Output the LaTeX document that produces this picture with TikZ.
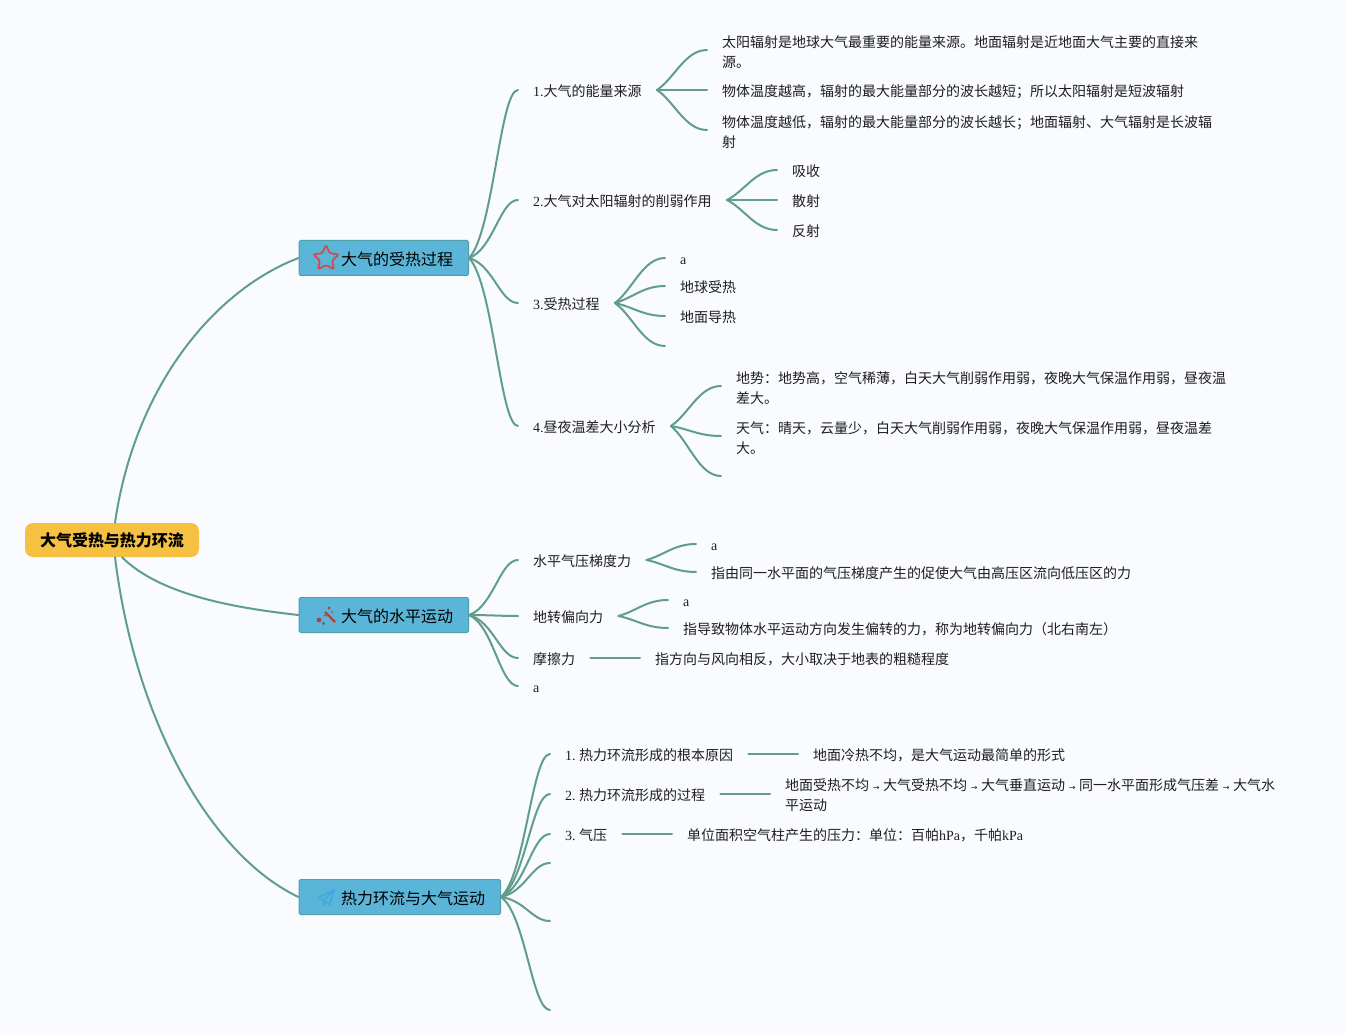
\documentclass[tikz,border=0pt]{standalone}
\usepackage{fontspec}
\usetikzlibrary{shapes.geometric,calc}
\setmainfont{Noto Sans CJK SC}
\newfontfamily\latfont{Liberation Serif}
\newfontfamily\arrowfont{DejaVu Sans}
\newcommand{\la}[1]{{\latfont #1}}
\newcommand{\arr}{\makebox[14pt]{\arrowfont\fontsize{8}{8}\selectfont →}}
\newcommand{\lnstrut}{\rule[-4pt]{0pt}{20pt}}
\definecolor{bgc}{HTML}{F9FBFF}
\definecolor{linkc}{HTML}{5F9E8F}
\definecolor{branchc}{HTML}{5BB5D8}
\definecolor{branchb}{HTML}{4E9FA8}
\definecolor{rootc}{HTML}{F6C143}
\definecolor{txtc}{HTML}{1E1E1E}
\definecolor{iconred}{HTML}{C9504B}
\definecolor{iconblue}{HTML}{3FA9E0}
\tikzset{
 txt/.style={anchor=west,inner sep=0pt,align=left,text=txtc,font=\fontsize{14}{20}\selectfont,execute at begin node=\lnstrut},
 btxt/.style={txt,text=black,font=\fontsize{16}{20}\selectfont},
 branch/.style={anchor=west,minimum height=35pt,inner sep=0pt,fill=branchc,draw=branchb,line width=1pt,rounded corners=1.5pt},
 rootnode/.style={fill=rootc,rounded corners=8pt,minimum width=174pt,minimum height=34pt,inner sep=0pt,text=black,font=\fontsize{16}{20}\selectfont\bfseries},
 lnk/.style={draw=linkc,line width=2pt,line cap=round},
 sc/.style={to path={.. controls ($(\tikztostart)!.3!(\tikztotarget)+(3,0)$) and +(-22,0) .. (\tikztotarget)}},
 big/.style={to path={.. controls ($(\tikztostart)!.15!(\tikztotarget)+(17,0)$) and +(-18,0) .. (\tikztotarget)}}
}
\begin{document}
\begin{tikzpicture}[x=1pt,y=-1pt]
\useasboundingbox (0,0) rectangle (1345,1035);
\fill[bgc] (0,0) rectangle (1345,1035);
% root and branches
\node[rootnode] (root) at (112,540) {\raisebox{-1.5pt}{大气受热与热力环流}};
\node[branch,minimum width=169.5pt] (b1) at (298.5,258) {};
\node[branch,minimum width=169.5pt] (b2) at (298.5,615) {};
\node[branch,minimum width=201.5pt] (b3) at (298.5,897) {};
\node[btxt] (b1t) at (341,260) {大气的受热过程};
\node[btxt] (b2t) at (341,616) {大气的水平运动};
\node[btxt] (b3t) at (341,898) {热力环流与大气运动};
% level 2, branch 1
\node[txt] (n1) at (533,91) {\la{1.}大气的能量来源};
\node[txt] (n11) at (722,53.5) {太阳辐射是地球大气最重要的能量来源。地面辐射是近地面大气主要的直接来\\\lnstrut 源。};
\node[txt] (n12) at (722,91) {物体温度越高，辐射的最大能量部分的波长越短；所以太阳辐射是短波辐射};
\node[txt] (n13) at (722,133.5) {物体温度越低，辐射的最大能量部分的波长越长；地面辐射、大气辐射是长波辐\\\lnstrut 射};
\node[txt] (n2) at (533,201) {\la{2.}大气对太阳辐射的削弱作用};
\node[txt] (n21) at (792,171) {吸收};
\node[txt] (n22) at (792,201) {散射};
\node[txt] (n23) at (792,231) {反射};
\node[txt] (n3) at (533,303) {\la{3.}受热过程};
\node[txt] (n31) at (680,259) {\la{a}};
\node[txt] (n32) at (680,287) {地球受热};
\node[txt] (n33) at (680,317) {地面导热};
\coordinate (n34) at (665,346);
\node[txt] (n4) at (533,426) {\la{4.}昼夜温差大小分析};
\node[txt] (n41) at (736,389.5) {地势：地势高，空气稀薄，白天大气削弱作用弱，夜晚大气保温作用弱，昼夜温\\\lnstrut 差大。};
\node[txt] (n42) at (736,439.5) {天气：晴天，云量少，白天大气削弱作用弱，夜晚大气保温作用弱，昼夜温差\\\lnstrut 大。};
\coordinate (n43) at (721,476);
% branch 2
\node[txt] (m1) at (533,560) {水平气压梯度力};
\node[txt] (m11) at (711,544) {\la{a}};
\node[txt] (m12) at (711,572) {指由同一水平面的气压梯度产生的促使大气由高压区流向低压区的力};
\node[txt] (m2) at (533,616) {地转偏向力};
\node[txt] (m21) at (683,600) {\la{a}};
\node[txt] (m22) at (683,628) {指导致物体水平运动方向发生偏转的力，称为地转偏向力（北右南左）};
\node[txt] (m3) at (533,658) {摩擦力};
\node[txt] (m31) at (655,658) {指方向与风向相反，大小取决于地表的粗糙程度};
\node[txt] (m4) at (533,686) {\la{a}};
% branch 3
\node[txt] (k1) at (565,754) {\la{1.}\hspace{3.5pt}热力环流形成的根本原因};
\node[txt] (k11) at (813,754) {地面冷热不均，是大气运动最简单的形式};
\node[txt] (k2) at (565,794) {\la{2.}\hspace{3.5pt}热力环流形成的过程};
\node[txt] (k21) at (785,797) {地面受热不均\arr 大气受热不均\arr 大气垂直运动\arr 同一水平面形成气压差\arr 大气水\\\lnstrut 平运动};
\node[txt] (k3) at (565,834) {\la{3.}\hspace{3.5pt}气压};
\node[txt] (k31) at (687,834) {单位面积空气柱产生的压力：单位：百帕\la{hPa}，千帕\la{kPa}};
\coordinate (k4) at (550,863);
\coordinate (k5) at (550,921);
\coordinate (k6) at (550,1010);
% connectors
\draw[lnk] ([xshift=3pt]root.north) .. controls (135,385) and (215,290) .. (b1.west);
\draw[lnk] ([xshift=10pt]root.south) .. controls (160,595) and (235,608) .. (b2.west);
\draw[lnk] ([xshift=3pt]root.south) .. controls (135,720) and (210,855) .. (b3.west);
\foreach \t in {n1,n2} \draw[lnk] (b1.east) to[big] ([xshift=-15pt,yshift=1pt]\t.west);
\foreach \t in {n3,n4} \draw[lnk] (b1.east) to[big] ([xshift=-15pt]\t.west);
\foreach \t in {m1,m2,m3,m4} \draw[lnk] (b2.east) to[big] ([xshift=-15pt]\t.west);
\foreach \t in {k1,k2,k3} \draw[lnk] (b3.east) to[big] ([xshift=-15pt]\t.west);
\foreach \t in {k4,k5,k6} \draw[lnk] (b3.east) to[big] (\t);
\draw[lnk] ([xshift=15pt,yshift=1pt]n1.east) to[sc] ([xshift=-15pt,yshift=3.5pt]n11.west);
\draw[lnk] ([xshift=15pt,yshift=1pt]n1.east) to[sc] ([xshift=-15pt,yshift=1pt]n12.west);
\draw[lnk] ([xshift=15pt,yshift=1pt]n1.east) to[sc] ([xshift=-15pt,yshift=3.5pt]n13.west);
\foreach \t in {n21,n22,n23} \draw[lnk] ([xshift=15pt,yshift=1pt]n2.east) to[sc] ([xshift=-15pt,yshift=1pt]\t.west);
\foreach \t in {n31,n32,n33} \draw[lnk] ([xshift=15pt]n3.east) to[sc] ([xshift=-15pt,yshift=1pt]\t.west);
\draw[lnk] ([xshift=15pt]n3.east) to[sc] (n34);
\foreach \t in {n41,n42} \draw[lnk] ([xshift=15pt]n4.east) to[sc] ([xshift=-15pt,yshift=3.5pt]\t.west);
\draw[lnk] ([xshift=15pt]n4.east) to[sc] (n43);
\foreach \t in {m11,m12} \draw[lnk] ([xshift=15pt]m1.east) to[sc] ([xshift=-15pt]\t.west);
\foreach \t in {m21,m22} \draw[lnk] ([xshift=15pt]m2.east) to[sc] ([xshift=-15pt]\t.west);
\draw[lnk] ([xshift=15pt]m3.east) -- ([xshift=-15pt]m31.west);
\draw[lnk] ([xshift=15pt]k1.east) -- ([xshift=-15pt]k11.west);
\draw[lnk] ([xshift=15pt]k2.east) -- ([xshift=-15pt,yshift=3pt]k21.west);
\draw[lnk] ([xshift=15pt]k3.east) -- ([xshift=-15pt]k31.west);
% icons
\node[star,star points=5,star point ratio=2.1,minimum size=27pt,inner sep=0pt,draw=iconred,line width=1.8pt,rounded corners=1.5pt] (ic1) at (326,258.5) {};
\draw[iconred!85!black,line width=2.4pt] (325,612) -- (335,622);
\fill[iconred!85!black] (319,620) circle (2.4pt) (323.5,623.5) circle (1.6pt) (329,608) circle (1.6pt) (332,612) circle (1pt) (325,615.5) circle (1.2pt);
\draw[iconblue,line width=1.6pt,line join=round] (334.5,889.5) -- (318.5,897.5) -- (323.5,900.5) -- (334.5,889.5) -- (329.5,904.5) -- (323.5,900.5) -- (323.5,905) -- (326.5,902.5);
\end{tikzpicture}
\end{document}
